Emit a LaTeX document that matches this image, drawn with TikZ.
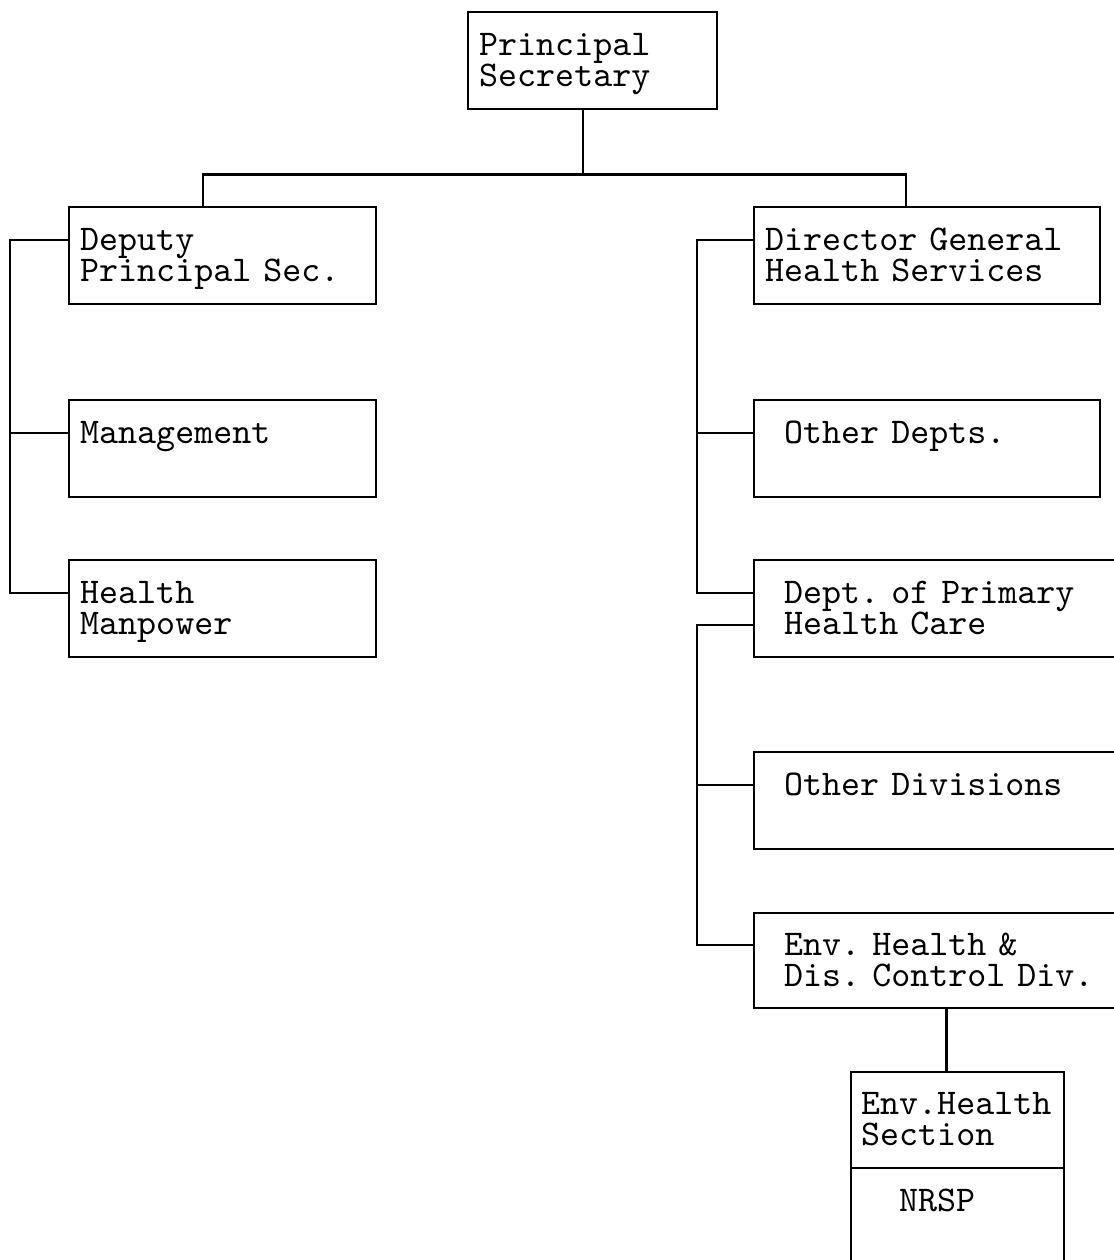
\documentclass[tikz,border=0pt]{standalone}
\usepackage{fontspec}
\setmonofont[WordSpace={1,0,0},PunctuationSpace=WordSpace]{Latin Modern Mono}
\usepackage{tikz}
\newcommand{\boxfont}{\ttfamily\fontsize{10.3pt}{8.8pt}\selectfont\frenchspacing
  \fontdimen2\font=0.525em\fontdimen3\font=0pt\fontdimen4\font=0pt
  \lineskiplimit=-20pt\relax}
\newcommand{\topstrut}{\rule{0pt}{8.3pt}}
\newcommand{\botstrut}{\rule[-2.5pt]{0pt}{2.5pt}}
\tikzset{
  chartbox/.style={draw=black, line width=0.7pt, rectangle, anchor=north west,
                   align=left, inner ysep=0pt, inner xsep=0.11cm,
                   minimum height=0.97cm, font=\boxfont,
                   execute at begin node=\topstrut,
                   execute at end node=\botstrut},
  indented/.style={inner xsep=0.30cm},
  link/.style={draw=black, line width=0.7pt},
}
\begin{document}
\begin{tikzpicture}
    \useasboundingbox (0,0) rectangle (11.14,-12.6);
    \clip (0,0) rectangle (11.14,-12.6);
    % top
    \node[chartbox, text width=2.27cm] (ps) at (4.67,-0.11) {Principal\\Secretary};
    % left column
    \node[chartbox, text width=2.85cm] (dps) at (0.68,-2.06) {Deputy\\Principal Sec.};
    \node[chartbox, text width=2.85cm] (mgt) at (0.68,-3.99) {Management\\};
    \node[chartbox, text width=2.85cm] (hmp) at (0.68,-5.59) {Health\\Manpower};
    % right column
    \node[chartbox, text width=3.24cm] (dg) at (7.53,-2.06) {Director General\\Health Services};
    \node[chartbox, indented, text width=2.86cm] (oth) at (7.53,-3.99) {Other Depts.\\};
    \node[chartbox, indented, text width=3.50cm] (pri) at (7.53,-5.59) {Dept. of Primary\\Health Care};
    \node[chartbox, indented, text width=3.50cm] (div) at (7.53,-7.51) {Other Divisions\\};
    \node[chartbox, indented, text width=3.50cm, minimum height=0.95cm] (env) at (7.53,-9.12) {Env. Health \&\\Dis. Control Div.};
    \node[chartbox, inner xsep=0.10cm, text width=1.93cm, minimum height=0.96cm] (sec) at (8.50,-10.71) {Env.Health\\Section};
    \node[chartbox, inner xsep=0.48cm, text width=1.17cm] (nrsp) at (8.50,-11.67) {NRSP\\};
    % connection points
    \foreach \n in {dps,mgt,hmp,dg,oth,pri,div,env}{
      \coordinate (\n-in) at ([yshift=.16cm]\n.west);
    }
    \coordinate (pri-out) at ([yshift=-.16cm]pri.west);
    \coordinate (lb) at (0.10,0);
    \coordinate (rb) at (6.97,0);
    \coordinate (psdown) at ([xshift=-.095cm]ps.south);
    \coordinate (bus) at ([yshift=-.64cm]psdown);
    \coordinate (secup) at ([xshift=-.11cm]sec.north);
    % lines
    \draw[link] (psdown) -- (bus);
    \draw[link] ([xshift=-.195cm]dps.north) |- (bus) -| ([xshift=-.21cm]dg.north);
    \draw[link] (dps-in) -| (lb |- hmp-in) -- (hmp-in);
    \draw[link] (mgt-in) -- (lb |- mgt-in);
    \draw[link] (dg-in) -| (rb |- pri-in) -- (pri-in);
    \draw[link] (oth-in) -- (rb |- oth-in);
    \draw[link] (pri-out) -| (rb |- env-in) -- (env-in);
    \draw[link] (div-in) -- (rb |- div-in);
    \draw[link] (secup) -- (secup |- env.south);
\end{tikzpicture}
\end{document}
